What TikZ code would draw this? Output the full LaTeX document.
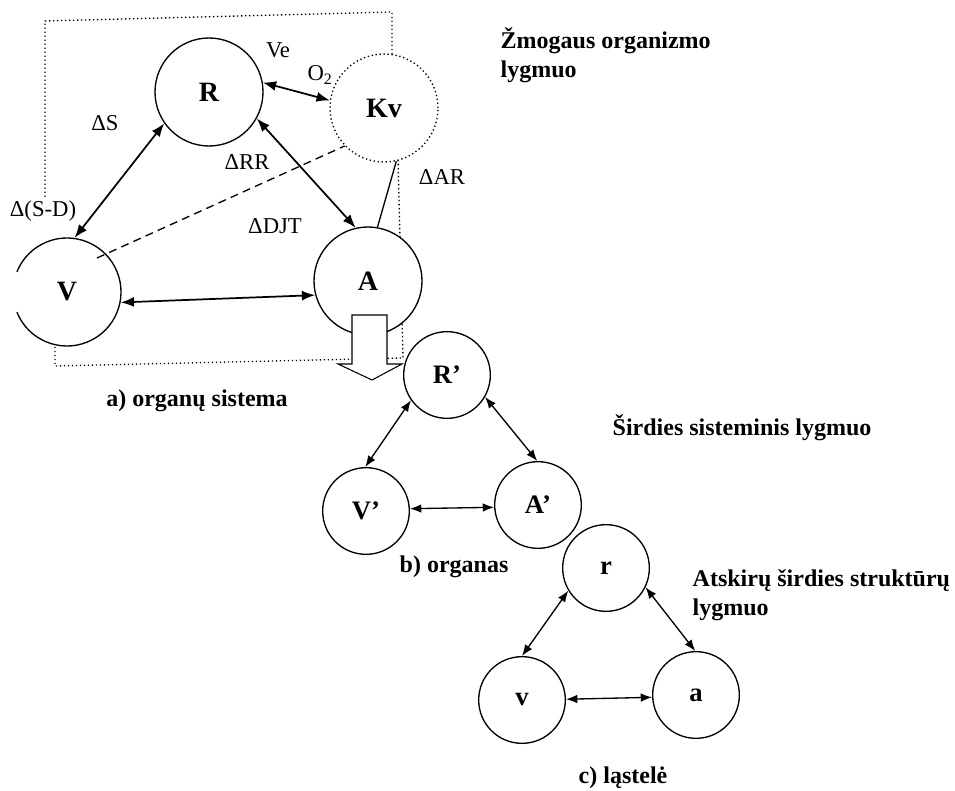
\documentclass[tikz,border=0pt]{standalone}
\usepackage{fontspec}
\setmainfont{Liberation Serif}
\usepackage{tikz}
\usetikzlibrary{arrows.meta}

\begin{document}
\begin{tikzpicture}[x=0.75pt,y=-0.75pt,>={Latex[length=10pt,width=7.5pt]},line width=1pt,
    bigcirc/.style={circle,draw,fill=white,minimum size=81pt,inner sep=0pt,
                    font=\fontsize{21}{24}\selectfont\bfseries},
    smallcirc/.style={circle,draw,fill=white,minimum size=65pt,inner sep=0pt,
                      font=\fontsize{20}{24}\selectfont\bfseries},
    lbl/.style={inner sep=1pt,font=\fontsize{17}{20}\selectfont},
    capt/.style={inner sep=0pt,align=left,font=\fontsize{18}{22}\selectfont\bfseries},
    link/.style={<->,line width=1.3pt},
    slink/.style={<->,line width=1pt,>={Latex[length=8.5pt,width=6.5pt]}}]
  \useasboundingbox (0,0) rectangle (955,791);

  % frame round the organ system
  \draw[dotted] (45,197) -- (45,21) -- (392,12) -- (392,60);
  \draw[dotted] (398,160) -- (403,358) -- (55,366) -- (55,340);

  % a) organ system
  \node[bigcirc] (R) at (209,92) {R};
  \node[bigcirc,draw=none] (V) at (67,292) {V};
  \draw ([shift={(202:40.5pt)}]V.center) arc[start angle=202,end angle=518,radius=40.5pt];
  \node[bigcirc] (A) at (368,281) {A};
  \node[bigcirc,dotted] (Kv) at (384,108) {Kv};
  \draw[fill=white,line width=0.8pt] (352,315) -- (387,315) -- (387,364) -- (402,364)
    -- (372,380) -- (338,364) -- (352,364) -- cycle;

  \draw[link] (R.10) -- (Kv.172);
  \draw[link] (R.215) -- (V.82);
  \draw[link] (R.331) -- (A.103);
  \draw[link] (V.349) -- (A.195);
  \draw (Kv.283) -- (A.80);
  \draw[dash pattern=on 6pt off 4pt] ([shift={(30,-34)}]V.center) -- (Kv.224);

  \node[lbl] (ve) at (278,50) {Ve};
  \node[lbl] (o2) at (320,75) {O\textsubscript{2}};
  \node[lbl] (ds) at (105,123) {ΔS};
  \node[lbl] (drr) at (247,162) {ΔRR};
  \node[lbl] (dar) at (442,177) {ΔAR};
  \node[lbl,fill=white] (dsd) at (43,211) {Δ(S-D)};
  \node[lbl] (djt) at (275,226) {ΔDJT};

  % b) organ
  \node[smallcirc] (Rp) at (447,375) {R'};
  \node[smallcirc] (Vp) at (366,511) {V'};
  \node[smallcirc] (Ap) at (538,505) {A'};
  \draw[slink] (Rp.215) -- (Vp.91);
  \draw[slink] (Rp.330) -- (Ap.91);
  \draw[slink] (Vp.3) -- (Ap.183);

  % c) cell
  \node[smallcirc] (rc) at (606,568) {r};
  \node[smallcirc] (vc) at (522,700) {v};
  \node[smallcirc] (ac) at (696,695) {a};
  \draw[slink] (rc.211) -- (vc.90);
  \draw[slink] (rc.334) -- (ac.91);
  \draw[slink] (vc.1) -- (ac.183);

  % level captions
  \node[capt,anchor=west] (lvl1) at (500,55) {Žmogaus organizmo\\lygmuo};
  \node[capt] (capa) at (197,401) {a) organų sistema};
  \node[capt,anchor=west] (lvl2) at (612,428) {Širdies sisteminis lygmuo};
  \node[capt] (capb) at (454,567) {b) organas};
  \node[capt,anchor=west] (lvl3) at (692,595) {Atskirų širdies struktūrų\\lygmuo};
  \node[capt] (capc) at (623,778) {c) ląstelė};
\end{tikzpicture}
\end{document}
